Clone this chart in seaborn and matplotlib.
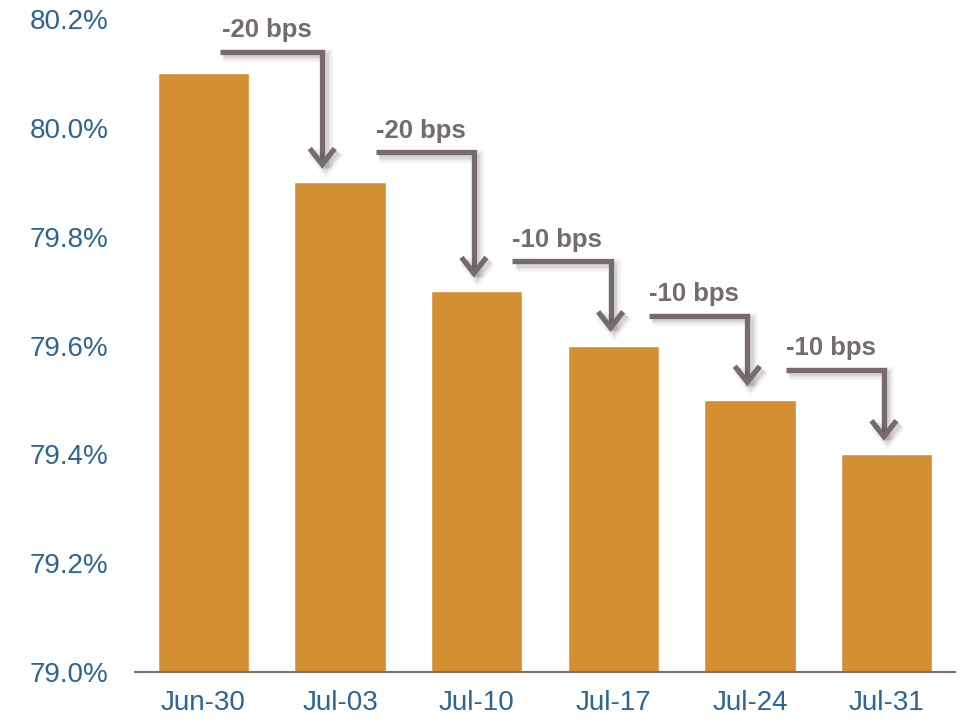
import matplotlib
matplotlib.use("Agg")
import matplotlib.pyplot as plt
import matplotlib.patheffects as pe
import seaborn as sns
import pandas as pd

dates = ["Jun-30", "Jul-03", "Jul-10", "Jul-17", "Jul-24", "Jul-31"]
values = [80.1, 79.9, 79.7, 79.6, 79.5, 79.4]
change_labels = ["-20 bps", "-20 bps", "-10 bps", "-10 bps", "-10 bps"]
yticks = [79.0, 79.2, 79.4, 79.6, 79.8, 80.0, 80.2]

BAR = "#D58F33"
BLUE = "#2C6593"
GREY = "#756B6C"

sns.set_theme(style="white")
plt.rcParams["font.family"] = ["Liberation Sans", "DejaVu Sans"]

fig = plt.figure(figsize=(9.62, 7.24), dpi=100)
ax = fig.add_axes([135 / 962, 1 - 672 / 724, 820 / 962, (672 - 19) / 724])

df = pd.DataFrame({"date": dates, "value": values})
sns.barplot(data=df, x="date", y="value", color=BAR, saturation=1, width=0.67, ax=ax)

ax.set_xlim(-0.5, len(dates) - 0.5)
ax.set_ylim(79.0, 80.2)
ax.set_yticks(yticks)
ax.set_yticklabels([f"{t:.1f}%" for t in yticks])
ax.set_xlabel("")
ax.set_ylabel("")
ax.tick_params(axis="y", length=0, pad=19, labelsize=20, labelcolor=BLUE)
ax.tick_params(axis="x", length=0, pad=13, labelsize=20, labelcolor=BLUE)
for s in ["left", "right", "top"]:
    ax.spines[s].set_visible(False)
ax.spines["bottom"].set_color("#7A7070")
ax.spines["bottom"].set_linewidth(1.5)

shadow = [
    pe.SimpleLineShadow(offset=(2.5, -2.5), shadow_color="#000000", alpha=0.05, linewidth=9),
    pe.SimpleLineShadow(offset=(2.5, -2.5), shadow_color="#000000", alpha=0.06, linewidth=6),
    pe.SimpleLineShadow(offset=(2.5, -2.5), shadow_color="#000000", alpha=0.06, linewidth=3.5),
    pe.Normal(),
]

for i, lab in enumerate(change_labels):
    y_line = values[i] + (0.04 if i == 0 else 0.055)
    x_start = i + (0.12 if i == 0 else 0.26)
    x_end = i + 1 - (0.13 if i == 0 else 0.02)
    y_tip = values[i + 1] + 0.025
    arr = ax.annotate(
        "", xy=(x_end, y_tip), xytext=(x_start, y_line),
        arrowprops=dict(
            arrowstyle="->,head_length=0.95,head_width=0.75",
            connectionstyle="angle,angleA=0,angleB=90,rad=0",
            color=GREY, lw=3.8, shrinkA=0, shrinkB=0,
            joinstyle="miter", capstyle="butt",
        ),
        annotation_clip=False,
    )
    arr.arrow_patch.set_path_effects(shadow)
    ax.annotate(lab, xy=((x_start + x_end) / 2, y_line), xytext=(-3, 10.5),
                textcoords="offset points", ha="center", va="baseline",
                fontsize=18.5, fontweight="bold", color=GREY, annotation_clip=False)

fig.savefig("out.png", dpi=100)
